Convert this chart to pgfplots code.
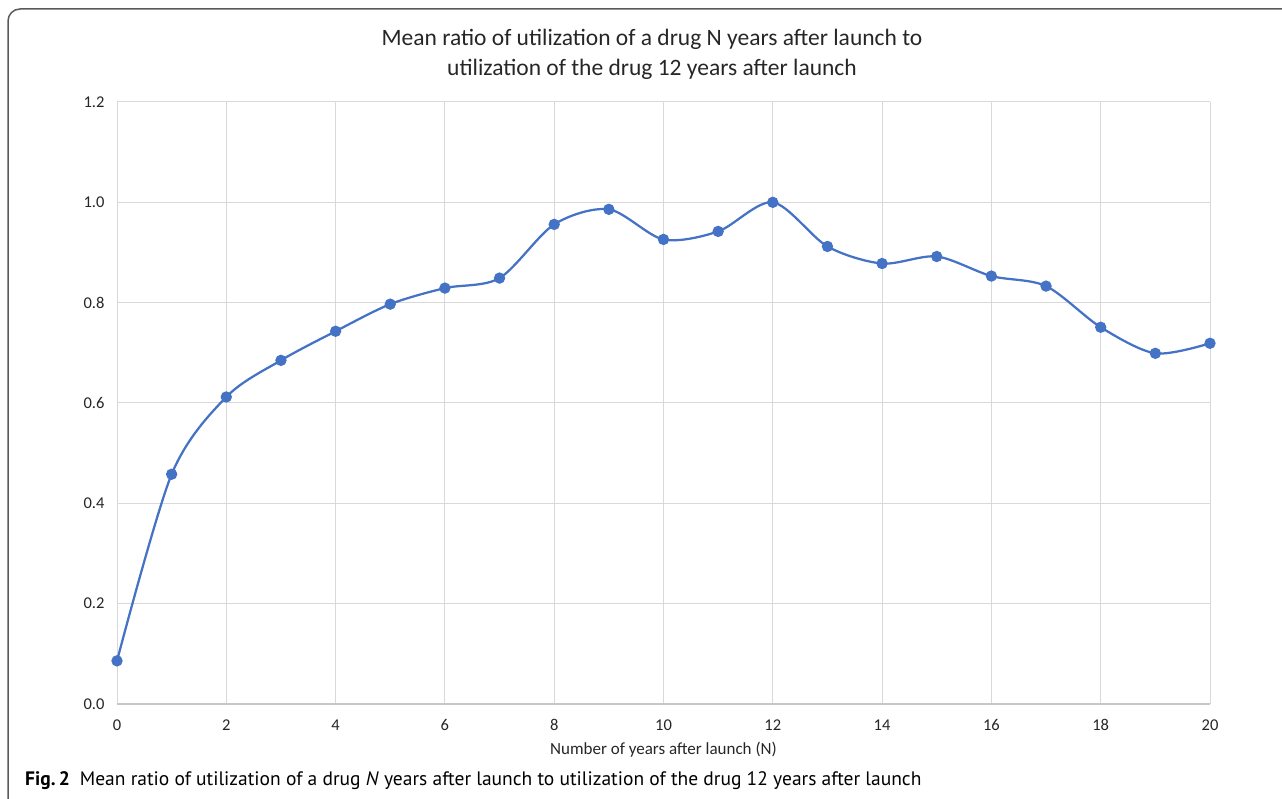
\documentclass[border=0pt]{standalone}
\usepackage{pgfplots}
\pgfplotsset{compat=1.18}
\usepackage{fontspec}
\setmainfont{Carlito}
\newfontfamily\capfont{PT Sans}
\definecolor{excelblue}{HTML}{4472C4}
\definecolor{gridgray}{HTML}{D9D9D9}
\definecolor{txtgray}{HTML}{262626}
\definecolor{framegray}{HTML}{5A5A5A}

\begin{document}
\begin{tikzpicture}[x=1pt,y=1pt]
\path[use as bounding box] (0,0) rectangle (1282,799);
% panel frame
\draw[framegray, line width=1.5pt, rounded corners=12pt] (8,-10) -- (8,790) -- (1295,790);

\begin{axis}[
    at={(117pt,95pt)}, anchor=origin,
    scale only axis, width=1093pt, height=602pt,
    xmin=0, xmax=20, ymin=0, ymax=1.2,
    xtick={0,2,...,20}, ytick={0,0.2,...,1.2},
    grid=major, grid style={gridgray, line width=1pt},
    axis x line*=bottom, axis y line*=left,
    y axis line style={draw=none},
    x axis line style={gridgray!80!gray, line width=1.5pt},
    major tick length=0pt,
    tick label style={font=\fontsize{16.5}{18}\selectfont, text=txtgray},
    /pgf/number format/assume math mode=true,
    yticklabel style={xshift=-9pt, /pgf/number format/.cd, fixed, fixed zerofill, precision=1},
    xticklabel style={yshift=-12pt},
    xlabel={Number of years after launch (N)},
    xlabel style={font=\fontsize{17}{19}\selectfont, text=txtgray, yshift=-4pt},
]
\addplot[excelblue, line width=2.25pt, smooth, mark=*, mark size=4.5pt,
         mark options={fill=excelblue, draw=excelblue}] coordinates {
    (0, 0.086) (1, 0.458) (2, 0.612) (3, 0.685) (4, 0.743)
    (5, 0.797) (6, 0.829) (7, 0.849) (8, 0.956) (9, 0.986)
    (10, 0.926) (11, 0.942) (12, 1.000) (13, 0.912) (14, 0.878)
    (15, 0.892) (16, 0.853) (17, 0.833) (18, 0.751) (19, 0.699)
    (20, 0.719)
};
\end{axis}

\node[align=center, text=txtgray, font=\fontsize{23.5}{30}\selectfont] at (652,745)
    {Mean ratio of utilization of a drug N years after launch to\\utilization of the drug 12 years after launch};

\node[anchor=base west, inner sep=0pt, font=\capfont\fontsize{19.5}{22}\selectfont] at (25,13)
    {\textbf{Fig.\,2}\hspace{10pt}Mean ratio of utilization of a drug \textit{N} years after launch to utilization of the drug 12 years after launch};
\end{tikzpicture}
\end{document}
